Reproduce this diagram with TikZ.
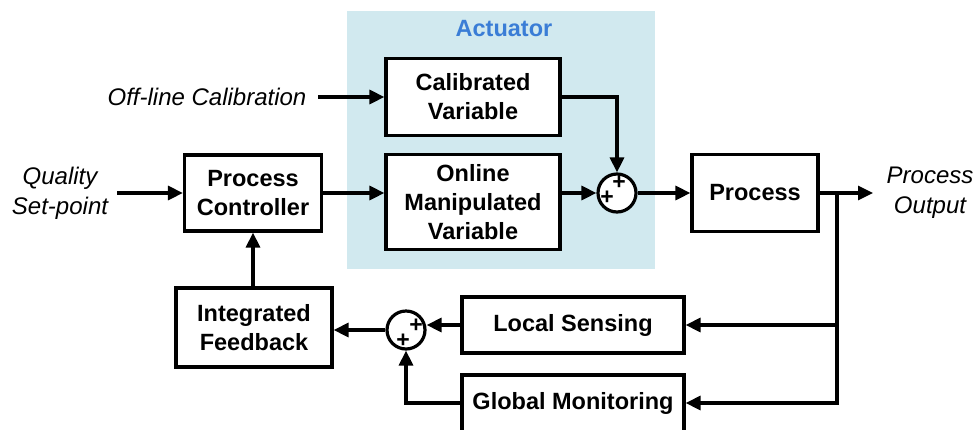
\documentclass[tikz,border=0pt]{standalone}
\usepackage{fontspec}
\setmainfont{Liberation Sans}
\usetikzlibrary{arrows.meta}
\definecolor{actbg}{HTML}{D1E9EF}
\definecolor{actfg}{HTML}{3A7DD6}
\begin{document}
\begin{tikzpicture}[x=1pt,y=-1pt,
  every node/.style={font=\fontsize{23.5}{29}\selectfont, align=center},
  blk/.style={draw, line width=3.2pt, fill=white, inner sep=0pt, font=\fontsize{23.5}{29}\selectfont\bfseries},
  lbl/.style={font=\fontsize{24}{30}\selectfont\itshape},
  sumj/.style={draw, circle, line width=3.2pt, fill=white, minimum size=38pt, inner sep=0pt},
  wire/.style={line width=3.2pt},
  flow/.style={wire, -{Triangle[length=15pt,width=14pt]}},
  plus/.style={font=\fontsize{23}{23}\selectfont\bfseries, inner sep=0pt}]
\useasboundingbox (0,0) rectangle (976,429);

% actuator region
\fill[actbg] (347,11) rectangle (655,269);
\node[font=\fontsize{23.5}{29}\selectfont\bfseries, text=actfg] (act) at (504,29) {Actuator};

% blocks
\node[blk, minimum width=174pt, minimum height=77pt] (cal) at (473,97) {Calibrated\\Variable};
\node[blk, minimum width=174pt, minimum height=95pt] (onl) at (473,202) {Online\\Manipulated\\Variable};
\node[blk, minimum width=137pt, minimum height=76pt] (pc) at (253,193) {Process\\Controller};
\node[blk, minimum width=126pt, minimum height=77pt] (proc) at (755,193) {Process};
\node[blk, minimum width=156pt, minimum height=79pt] (ifb) at (254,327.5) {Integrated\\Feedback};
\node[blk, minimum width=222pt, minimum height=56pt] (ls) at (573,325) {Local Sensing};
\node[blk, minimum width=222pt, minimum height=80pt, text depth=28pt] (gm) at (573,415) {Global Monitoring};

% summing junctions, each with two plus signs
\node[sumj] (s1) at (617,193) {};
\node[plus] (s1a) at (619,183) {+};
\node[plus] (s1b) at (607,198) {+};
\node[sumj] (s2) at (406,330) {};
\node[plus] (s2a) at (416,326) {+};
\node[plus] (s2b) at (403,341) {+};

% external labels
\node[lbl] (qsp) at (60,193) {Quality\\Set-point};
\node[lbl] (olc) at (207,97) {Off-line Calibration};
\node[lbl] (pout) at (930,193) {Process\\Output};
\coordinate (qspE) at (117,193);
\coordinate (olcE) at (318,97);
\coordinate (outE) at (873,193);
\coordinate (br) at (837,193);
\coordinate (gmIn) at (837,403);

% connectors
\draw[flow] (qspE) -- (pc.west);
\draw[flow] (olcE) -- (cal.west |- olcE);
\draw[flow] (pc.east) -- (onl.west |- pc.east);
\draw[flow] (cal.east) -| (s1.north);
\draw[flow] (onl.east |- s1) -- (s1.west);
\draw[flow] (s1.east) -- (proc.west);
\draw[flow] (proc.east) -- (outE);
\draw[wire, line cap=rect] (br) -- (gmIn);
\draw[flow] (br |- ls.east) -- (ls.east);
\draw[flow] (gmIn) -- (gm.east |- gmIn);
\draw[flow] (ls.west) -- (s2.east |- ls.west);
\draw[flow] (gm.west |- gmIn) -| (s2.south);
\draw[flow] (s2.west) -- (ifb.east |- s2.west);
\draw[flow] (ifb.north -| pc.south) -- (pc.south);
\end{tikzpicture}
\end{document}
